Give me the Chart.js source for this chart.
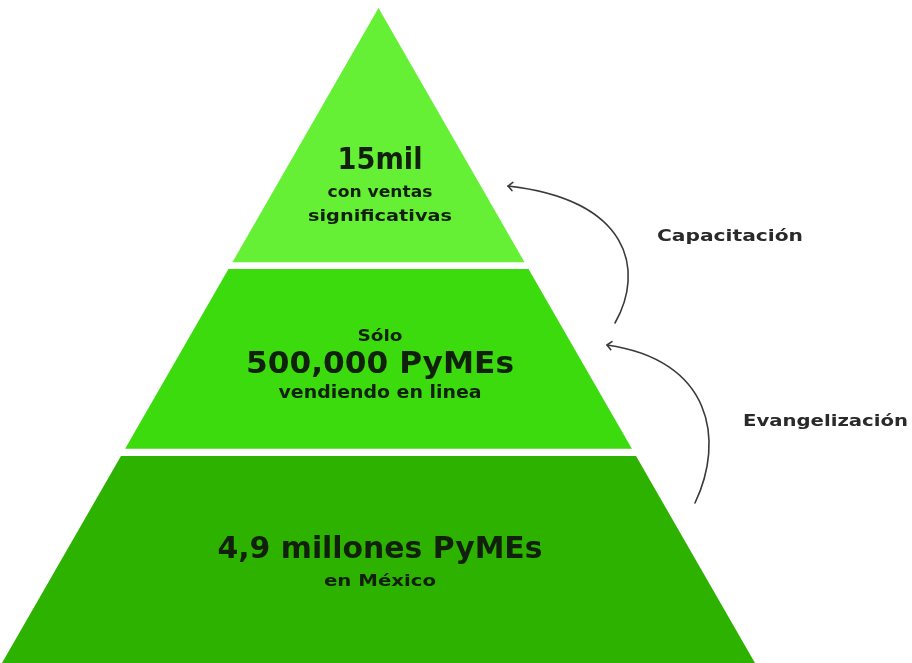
<!DOCTYPE html>
<html><head><meta charset="utf-8">
<script src="https://cdn.jsdelivr.net/npm/chart.js@4.4.0/dist/chart.umd.min.js"></script>
<style>html,body{margin:0;padding:0;background:#fff;overflow:hidden}#wrap{width:912px;height:663px;position:relative}</style>
</head><body><div id="wrap"><canvas id="c"></canvas></div>
<script>
// ---- data ----
const tierNames = ['PyMEs en México', 'PyMEs vendiendo en línea', 'Con ventas significativas'];
const tierValues = [4900000, 500000, 15000];
const tierBottoms = [0, 0.327, 0.612];   // relative level where each tier starts (0 = base, 1 = apex)
const tierTops = [0.316, 0.6015, 1];
const tierText = [
  ['4,9 millones PyMEs', 'en México'],
  ['Sólo', '500,000 PyMEs', 'vendiendo en linea'],
  ['15mil', 'con ventas', 'significativas']
];
const stepLabels = ['Evangelización', 'Capacitación'];

// ---- styles / layout ----
const tierColors = ['#2db200', '#3bdb0e', '#66f035'];
const textColor = '#10200b';
const FONT = '"DejaVu Sans", sans-serif';
// per line: [level y, font size, target width]
const textLayout = [
  [[0.1725, 30, 325], [0.1237, 16, 112]],
  [[0.4977, 15, 45], [0.4550, 31, 268], [0.4107, 17, 203]],
  [[0.7664, 30, 85], [0.7176, 16, 105], [0.6809, 16, 144]]
];
// arrows: start, cp1, cp2, end in scale units ; label left x, y, size, width
const arrowLayout = [
  {p: [[0.8406,0.2443],[0.9203,0.3405],[0.8858,0.4626],[0.6069,0.4855]], label: [0.9681, 0.3679, 16, 165]},
  {p: [[0.6282,0.5191],[0.7078,0.6000],[0.6680,0.7069],[0.3440,0.7282]], label: [0.7397, 0.6504, 16, 146]}
];

const datasets = tierNames.map((name, i) => {
  const b = tierBottoms[i], t = tierTops[i];
  return {
    label: name,
    data: [
      {x: -(1 - b), y: b}, {x: (1 - b), y: b},
      {x: (1 - t), y: t}, {x: -(1 - t), y: t},
      {x: -(1 - b), y: b}
    ],
    showLine: true,
    fill: 'shape',
    backgroundColor: tierColors[i],
    borderColor: tierColors[i],
    borderWidth: 0,
    pointRadius: 0,
    tension: 0
  };
});

function fitText(ctx, txt, cx, cy, size, width, align) {
  ctx.font = 'bold ' + size + 'px ' + FONT;
  ctx.textBaseline = 'middle';
  ctx.textAlign = 'left';
  const w = ctx.measureText(txt).width;
  let sx = width / w;
  sx = Math.max(0.8, Math.min(1.4, sx));
  const real = w * sx;
  const x = align === 'left' ? cx : cx - real / 2;
  ctx.save();
  ctx.translate(x, cy);
  ctx.scale(sx, 1);
  ctx.fillText(txt, 0, 0);
  ctx.restore();
}

const overlay = {
  id: 'overlay',
  afterDatasetsDraw(chart) {
    const ctx = chart.ctx, xs = chart.scales.x, ys = chart.scales.y;
    ctx.save();
    ctx.fillStyle = textColor;
    const cx = xs.getPixelForValue(0) + 1.5;
    tierText.forEach((lines, i) => {
      lines.forEach((txt, j) => {
        const [lv, size, w] = textLayout[i][j];
        fitText(ctx, txt, cx, ys.getPixelForValue(lv), size, w, 'center');
      });
    });
    // arrows
    ctx.strokeStyle = '#3a3a3a';
    ctx.lineWidth = 1.6;
    ctx.lineCap = 'round';
    ctx.lineJoin = 'round';
    arrowLayout.forEach((a, i) => {
      const P = a.p.map(q => [xs.getPixelForValue(q[0]), ys.getPixelForValue(q[1])]);
      ctx.beginPath();
      ctx.moveTo(P[0][0], P[0][1]);
      ctx.bezierCurveTo(P[1][0], P[1][1], P[2][0], P[2][1], P[3][0], P[3][1]);
      ctx.stroke();
      const dx = P[3][0] - P[2][0], dy = P[3][1] - P[2][1];
      const ang = Math.atan2(dy, dx);
      const L = 6;
      ctx.beginPath();
      ctx.moveTo(P[3][0] - L * Math.cos(ang - 0.75), P[3][1] - L * Math.sin(ang - 0.75));
      ctx.lineTo(P[3][0], P[3][1]);
      ctx.lineTo(P[3][0] - L * Math.cos(ang + 0.75), P[3][1] - L * Math.sin(ang + 0.75));
      ctx.stroke();
      ctx.fillStyle = '#2a2a2a';
      const [lx, ly, ls, lw] = a.label;
      fitText(ctx, stepLabels[i], xs.getPixelForValue(lx), ys.getPixelForValue(ly), ls, lw, 'left');
    });
    ctx.restore();
  }
};

new Chart(document.getElementById('c'), {
  type: 'scatter',
  data: {datasets},
  options: {
    responsive: true,
    maintainAspectRatio: false,
    animation: false,
    layout: {padding: 0},
    plugins: {legend: {display: false}, tooltip: {enabled: false}},
    scales: {
      x: {type: 'linear', display: false, min: -1.0053, max: 1.417},
      y: {type: 'linear', display: false, min: 0, max: 1.0122}
    }
  },
  plugins: [overlay]
});
</script>
</body></html>
